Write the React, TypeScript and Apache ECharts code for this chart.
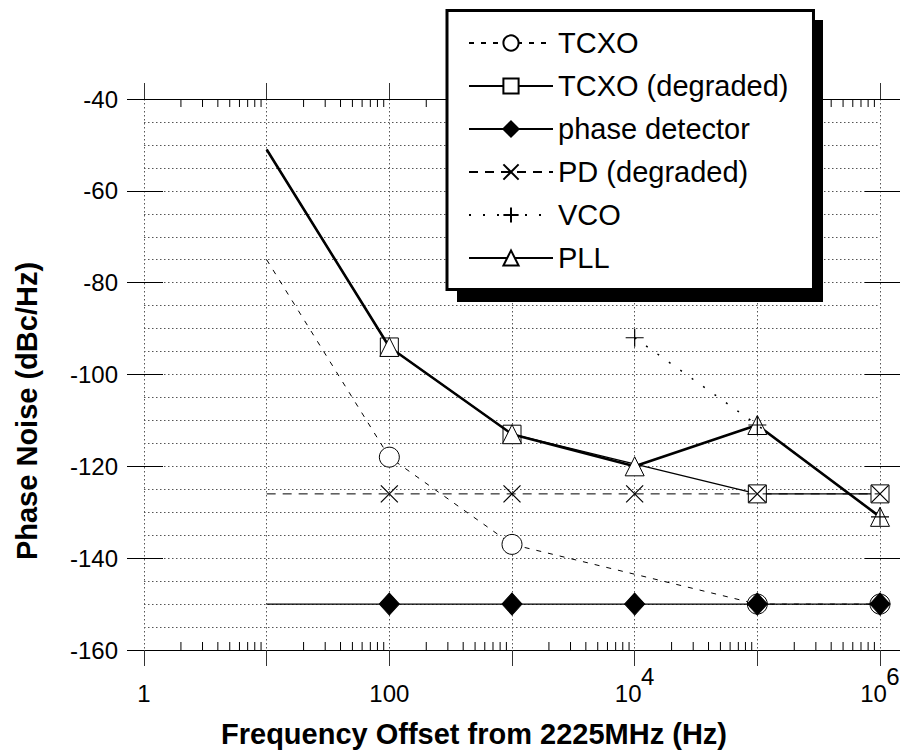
import React, { useEffect, useRef } from "react";
import * as echarts from "echarts";

// ---- data ----
const seriesNames = ["TCXO", "TCXO (degraded)", "phase detector", "PD (degraded)", "VCO", "PLL"];
const allFreq = [10, 100, 1000, 10000, 100000, 1000000];
const tcxoFreq = [10, 100, 1000, 100000, 1000000];
const tcxoVals = [-75, -118, -137, -150, -150];
const tcxoDegVals = [-51, -94, -113, -126, -126];
const pdVals = [-150, -150, -150, -150, -150, -150];
const pdDegVals = [-126, -126, -126, -126, -126, -126];
const vcoFreq = [10000, 100000, 1000000];
const vcoVals = [-92, -111, -131];
const pllVals = [-51, -94, -113, -120, -111, -131];
const yTicks = { min: -160, max: -40, step: 20 };
const xDecades = [1, 10, 100, 1000, 10000, 100000];
const xMinorMultipliers = [2, 3, 4, 5, 6, 7, 8, 9];
const xTickLabels: Record<number, [string, string]> = {
  0: ["", "1"],
  2: ["", "100"],
  4: ["10", "4"],
  6: ["10", "6"],
};
const unmarkedFreq = [10];

const FONT = '"Liberation Sans", Arial, Helvetica, sans-serif';

function pts(xs: number[], ys: number[]) {
  return xs.map((x, i) => {
    const item: any = { value: [x, ys[i]] };
    if (unmarkedFreq.indexOf(x) >= 0) item.symbol = "none";
    return item;
  });
}

const xPath = "path://M0,0L10,10M10,0L0,10";
const plusPath = "path://M5,0L5,10M0,5L10,5";

export default function App() {
  const ref = useRef<HTMLDivElement>(null);
  useEffect(() => {
    if (!ref.current) return;
    const chart = echarts.init(ref.current, null, { renderer: "svg" });
    const minorTicks: number[][] = [];
    xDecades.forEach((d) => xMinorMultipliers.forEach((m) => minorTicks.push([d * m, yTicks.min])));

    const gridStyle = { color: "#555", width: 1, type: [1.5, 2.5] as any };

    const option: any = {
      animation: false,
      textStyle: { fontFamily: FONT, color: "#000" },
      grid: { left: 144, right: 24, top: 99, bottom: 106, containLabel: false },
      legend: {
        data: seriesNames,
        orient: "vertical",
        left: 447,
        top: 10.5,
        padding: [18, 25, 17, 21],
        itemWidth: 84,
        itemHeight: 19,
        itemGap: 14,
        backgroundColor: "#fff",
        borderColor: "#000",
        borderWidth: 3,
        borderRadius: 0,
        selectedMode: false,
        z: 10,
        textStyle: { fontSize: 29, lineHeight: 28, color: "#000", fontFamily: FONT },
      },
      graphic: [
        {
          type: "rect",
          z: 9,
          shape: { x: 457, y: 20, width: 366, height: 282 },
          style: { fill: "#000" },
          silent: true,
        },
        {
          type: "text",
          x: 27,
          y: 411,
          rotation: Math.PI / 2,
          style: {
            text: "Phase Noise (dBc/Hz)",
            fontSize: 29,
            fontWeight: "bold",
            fontFamily: FONT,
            fill: "#000",
            align: "center",
            verticalAlign: "middle",
          },
        },
        {
          type: "text",
          x: 474,
          y: 734,
          style: {
            text: "Frequency Offset from 2225MHz (Hz)",
            fontSize: 29,
            fontWeight: "bold",
            fontFamily: FONT,
            fill: "#000",
            align: "center",
            verticalAlign: "middle",
          },
        },
      ],
      xAxis: [
        {
          type: "log",
          logBase: 10,
          min: 1,
          max: 1000000,
          splitNumber: 6,
          position: "bottom",
          axisLine: { show: true, lineStyle: { color: "#000", width: 1.2 } },
          axisTick: { show: true, inside: false, length: 16, lineStyle: { color: "#333", width: 1 } },
          minorTick: { show: false },
          splitLine: { show: true, lineStyle: gridStyle },
          axisLabel: {
            show: true,
            margin: 22,
            fontSize: 24,
            color: "#000",
            fontFamily: FONT,
            formatter: (v: number) => {
              const e = Math.round(Math.log10(v));
              const lab = xTickLabels[e];
              if (!lab) return "";
              if (lab[0] === "") return "{e| }\n{n|" + lab[1] + "}";
              return "{s|" + lab[1] + "}\n{b|" + lab[0] + "}";
            },
            rich: {
              e: { fontSize: 24, lineHeight: 9, fontFamily: FONT },
              n: { fontSize: 24, lineHeight: 24, fontFamily: FONT, color: "#000" },
              s: { fontSize: 24, lineHeight: 9, fontFamily: FONT, color: "#000", padding: [0, 0, 0, 26] },
              b: { fontSize: 24, lineHeight: 24, fontFamily: FONT, color: "#000", padding: [0, 13, 0, 0] },
            },
          },
        },
        {
          type: "log",
          logBase: 10,
          min: 1,
          max: 1000000,
          splitNumber: 6,
          position: "top",
          axisLine: { show: true, lineStyle: { color: "#000", width: 1.2 } },
          axisTick: { show: true, inside: false, length: 16, lineStyle: { color: "#333", width: 1 } },
          splitLine: { show: false },
          axisLabel: { show: false },
        },
      ],
      yAxis: [
        {
          type: "value",
          min: yTicks.min,
          max: yTicks.max,
          interval: yTicks.step,
          position: "left",
          axisLine: { show: false },
          axisTick: { show: true, inside: false, length: 17, lineStyle: { color: "#000", width: 1 } },
          minorTick: { show: true, splitNumber: 4, length: 0, lineStyle: { width: 0 } },
          splitLine: { show: true, lineStyle: gridStyle },
          minorSplitLine: { show: true, lineStyle: gridStyle },
          axisLabel: { margin: 26, fontSize: 24, color: "#000", fontFamily: FONT },
        },
        {
          type: "value",
          min: yTicks.min,
          max: yTicks.max,
          interval: yTicks.step,
          position: "left",
          axisLine: { show: false },
          axisTick: { show: true, inside: true, length: 19, lineStyle: { color: "#000", width: 1 } },
          splitLine: { show: false },
          axisLabel: { show: false },
        },
        {
          type: "value",
          min: yTicks.min,
          max: yTicks.max,
          interval: yTicks.step,
          position: "right",
          axisLine: { show: false },
          axisTick: { show: true, inside: false, length: 20, lineStyle: { color: "#000", width: 1 } },
          splitLine: { show: false },
          axisLabel: { show: false },
        },
        {
          type: "value",
          min: yTicks.min,
          max: yTicks.max,
          interval: yTicks.step,
          position: "right",
          axisLine: { show: false },
          axisTick: { show: true, inside: true, length: 15, lineStyle: { color: "#000", width: 1 } },
          splitLine: { show: false },
          axisLabel: { show: false },
        },
      ],
      series: [
        {
          type: "custom",
          silent: true,
          z: 1,
          xAxisIndex: 0,
          yAxisIndex: 0,
          data: minorTicks,
          encode: { x: 0, y: 1 },
          renderItem: (params: any, api: any) => {
            const v = api.value(0);
            const pb = api.coord([v, yTicks.min]);
            const pt = api.coord([v, yTicks.max]);
            return {
              type: "group",
              children: [
                { type: "line", shape: { x1: pb[0], y1: pb[1], x2: pb[0], y2: pb[1] - 8 }, style: { stroke: "#000", lineWidth: 1 } },
                { type: "line", shape: { x1: pt[0], y1: pt[1], x2: pt[0], y2: pt[1] + 8 }, style: { stroke: "#000", lineWidth: 1 } },
              ],
            };
          },
        },
        {
          name: seriesNames[0],
          type: "line",
          data: pts(tcxoFreq, tcxoVals),
          symbol: "circle",
          symbolSize: 20,
          showAllSymbol: true,
          smooth: false,
          lineStyle: { color: "#000", width: 1, type: [5, 7] },
          itemStyle: { color: "#fff", borderColor: "#000", borderWidth: 1 },
          z: 3,
        },
        {
          name: seriesNames[2],
          type: "line",
          data: pts(allFreq, pdVals),
          symbol: "diamond",
          symbolSize: [20, 22],
          showAllSymbol: true,
          lineStyle: { color: "#000", width: 1.3, type: "solid" },
          itemStyle: { color: "#000", borderColor: "#000", borderWidth: 1 },
          z: 4,
        },
        {
          name: seriesNames[1],
          type: "line",
          data: pts(tcxoFreq, tcxoDegVals),
          symbol: "rect",
          symbolSize: 18,
          showAllSymbol: true,
          smooth: false,
          lineStyle: { color: "#000", width: 1.3, type: "solid" },
          itemStyle: { color: "#fff", borderColor: "#000", borderWidth: 1 },
          z: 5,
        },
        {
          name: seriesNames[3],
          type: "line",
          data: pts(allFreq, pdDegVals),
          symbol: xPath,
          symbolSize: 17,
          showAllSymbol: true,
          lineStyle: { color: "#000", width: 1, type: [9, 7] },
          itemStyle: { color: "#000", borderColor: "#000", borderWidth: 1.2 },
          z: 6,
        },
        {
          name: seriesNames[5],
          type: "line",
          data: pts(allFreq, pllVals),
          symbol: "triangle",
          symbolSize: 19,
          showAllSymbol: true,
          smooth: false,
          lineStyle: { color: "#000", width: 2.6, type: "solid" },
          itemStyle: { color: "#fff", borderColor: "#000", borderWidth: 1 },
          z: 7,
        },
        {
          name: seriesNames[4],
          type: "line",
          data: pts(vcoFreq, vcoVals),
          symbol: plusPath,
          symbolSize: 18,
          showAllSymbol: true,
          lineStyle: { color: "#000", width: 1.5, type: [2, 12] },
          itemStyle: { color: "#000", borderColor: "#000", borderWidth: 1.2 },
          z: 8,
        },
      ],
    };
    chart.setOption(option);
    return () => chart.dispose();
  }, []);
  return (
    <div
      ref={ref}
      style={{ position: "fixed", left: 0, top: 0, width: 904, height: 756, background: "#fff" }}
    />
  );
}
